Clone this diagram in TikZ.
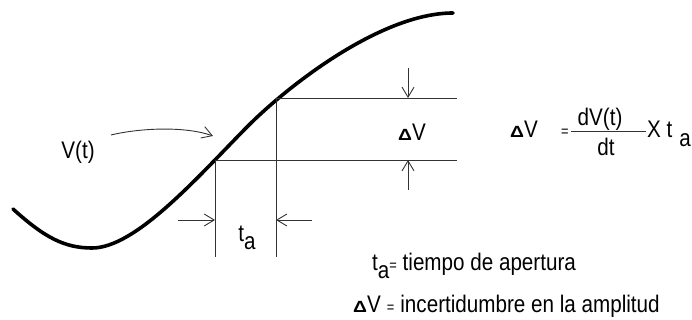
\documentclass[tikz,border=0pt]{standalone}
\usepackage{fontspec}
\setmainfont{Liberation Sans}[FakeStretch=0.86]
\usepackage{graphicx}
\usepackage{tikz}
\usetikzlibrary{arrows.meta,positioning}

\newcommand{\deltav}{\scalebox{1.25}[0.9]{\fontsize{18}{18}\selectfont\bfseries Δ}V}
\newcommand{\lowsub}[1]{\raisebox{-0.36em}{#1}}
\newcommand{\smalleq}{{\fontsize{15}{15}\selectfont =}}

\begin{document}
\begin{tikzpicture}[x=1pt, y=-1pt,
  lbl/.style={font=\fontsize{24}{26}\selectfont, inner sep=0pt},
  thinline/.style={line width=0.9pt, draw=black!80},
  dim/.style={thinline, -{Straight Barb[length=10pt, width=12pt]}},
  wave/.style={line width=3.6pt, line cap=round}
]
  \useasboundingbox (0,0) rectangle (692,320);

  % curva V(t)
  \draw[wave] (13,209) .. controls (45,238) and (65,248) .. (92,248)
    .. controls (135,248) and (195,180) .. (245,129)
    .. controls (285,88) and (380,13) .. (453,13);

  % puntos de muestreo
  \coordinate (lo) at (215,160);
  \coordinate (hi) at (276,98);
  \coordinate (hiend) at (457,98);
  \coordinate (loend) at (457,160);
  \coordinate (lofoot) at (215,257);
  \coordinate (hifoot) at (276,257);

  \draw[thinline] (hi) -- (hiend);
  \draw[thinline] (lo) -- (loend);
  \draw[thinline] (lo) -- (lofoot);
  \draw[thinline] (hi) -- (hifoot);

  % cotas
  \coordinate (tl) at (178,220);
  \coordinate (tlend) at (215,220);
  \coordinate (tr) at (312,220);
  \coordinate (trend) at (276,220);
  \coordinate (vt) at (408,68);
  \coordinate (vtend) at (408,98);
  \coordinate (vb) at (408,190);
  \coordinate (vbend) at (408,160);
  \draw[dim] (tl) -- (tlend);
  \draw[dim] (tr) -- (trend);
  \draw[dim] (vt) -- (vtend);
  \draw[dim] (vb) -- (vbend);

  % etiquetas
  \node[lbl] (vlabel) at (78,152) {V(t)};
  \coordinate (vfrom) at (111,135);
  \coordinate (vto) at (213,136);
  \draw[dim] (vfrom) .. controls (140,128) and (185,126) .. (vto);
  \node[lbl] (ta) at (247,238) {t\lowsub{a}};
  \node[lbl] (dvlabel) at (412,132) {\deltav};

  % formula
  \node[lbl, anchor=base west] (dv) at (510,138) {\deltav};
  \node[lbl, anchor=base] (eq) at (565,137) {\smalleq};
  \node[lbl, anchor=south] (num) at (600,131) {dV(t)};
  \draw[thinline] ([xshift=-6pt]num.south west) -- ([xshift=23pt]num.south east);
  \node[lbl, anchor=base] (den) at (606,156) {dt};
  \node[lbl, anchor=base west] (xt) at (647,138) {X t\hspace{7pt}\lowsub{a}};

  % leyenda
  \node[lbl, anchor=base west] (leg1) at (372,270) {t\lowsub{a}\smalleq\ tiempo de apertura};
  \node[lbl, anchor=base west] (leg2) at (353,312) {\deltav\hspace{6pt}\smalleq\hspace{6pt}incertidumbre en la amplitud};
\end{tikzpicture}
\end{document}
